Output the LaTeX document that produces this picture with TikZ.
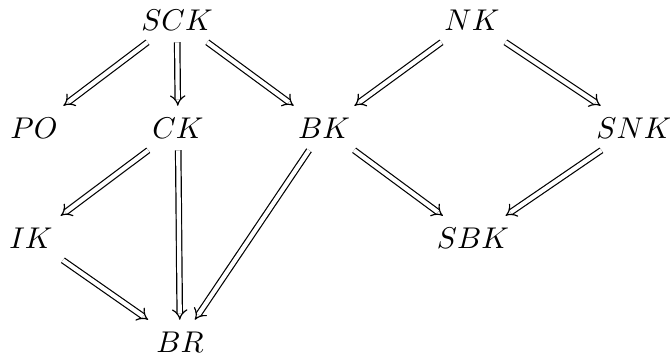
\documentclass[tikz,border=0pt]{standalone}
\usetikzlibrary{arrows.meta}
\begin{document}
\begin{tikzpicture}[x={(0.3333pt,0)}, y={(0,-0.3333pt)},
  obj/.style={inner sep=4pt, outer sep=0pt},
  imp/.style={double, double distance=1.4pt, line width=0.4pt, -{Implies}}]
\useasboundingbox (0,0) rectangle (670,363);
% objects
\node[obj] (sck) at (177,20)  {$SCK$};
\node[obj] (nk)  at (472,20)  {$N K$};
\node[obj] (po)  at (34,128)  {$PO$};
\node[obj] (ck)  at (178,128) {$CK$};
\node[obj] (bk)  at (324,128) {$BK$};
\node[obj] (snk) at (634,128) {$SN K$};
\node[obj] (ik)  at (31,238)  {$IK$};
\node[obj] (sbk) at (473,238) {$SBK$};
\node[obj] (br)  at (180,342) {$BR$};
% morphisms
\draw[imp] (sck) -- (po);
\draw[imp] (sck) -- (ck);
\draw[imp] (sck) -- (bk);
\draw[imp] (nk) -- (bk);
\draw[imp] (nk) -- (snk);
\draw[imp] (ck) -- (ik);
\draw[imp] (ck) -- (br);
\draw[imp] (bk) -- (br);
\draw[imp] (bk) -- (sbk);
\draw[imp] (snk) -- (sbk);
\draw[imp] (ik) -- (br);
\end{tikzpicture}
\end{document}
